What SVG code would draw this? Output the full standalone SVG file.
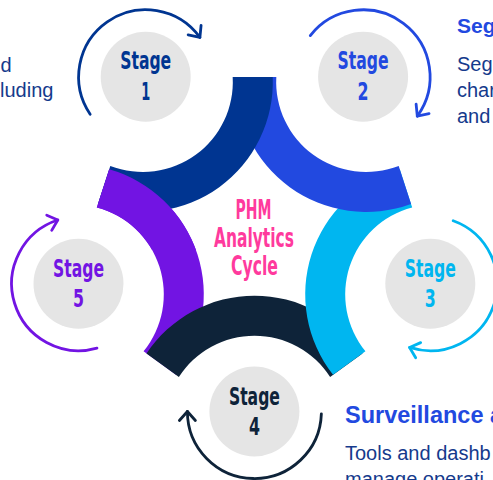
<svg xmlns="http://www.w3.org/2000/svg" xmlns:xlink="http://www.w3.org/1999/xlink" width="493" height="480" viewBox="0 0 493 480">
  <style>
    .disc { fill: #E5E5E5; }
    .stg { font-family: 'Liberation Sans Narrow', 'DejaVu Sans Condensed', 'Roboto Condensed', 'Liberation Sans', sans-serif; font-stretch: condensed; font-weight: bold; font-size: 24px; text-anchor: middle; }
    .ctr { font-family: 'Liberation Sans Narrow', 'DejaVu Sans Condensed', 'Roboto Condensed', 'Liberation Sans', sans-serif; font-stretch: condensed; font-weight: bold; font-size: 26px; text-anchor: middle; fill: #FF3A9D; }
    .arc { fill: none; stroke-width: 2.8; stroke-linecap: round; }
    .head { font-family: 'Liberation Sans', Arial, sans-serif; font-weight: bold; fill: #2249E0; }
    .body { font-family: 'Liberation Sans', Arial, sans-serif; font-size: 20px; fill: #153A8C; }
    .c1 { fill: #003591; } .c2 { fill: #2249E0; } .c3 { fill: #00B6F0; } .c4 { fill: #0E2339; } .c5 { fill: #7214E3; }
    .s1 { stroke: #003591; } .s2 { stroke: #2249E0; } .s3 { stroke: #00B6F0; } .s4 { stroke: #0E2339; } .s5 { stroke: #7214E3; }
  </style>
  <defs>
    <path id="ring" d="M 272.72 76.99 A 130 130 0 0 1 97.93 203.99 L 110.30 165.91 A 90 90 0 0 0 232.68 76.99 Z"/>
    <clipPath id="topleft"><rect x="0" y="0" width="260" height="250"/></clipPath>
    <marker id="m1" markerUnits="userSpaceOnUse" orient="auto" refX="0" refY="0" markerWidth="24" markerHeight="24" viewBox="-12 -12 24 24" overflow="visible"><path d="M -9 -8 L 0 0 L -9 8" fill="none" stroke="#003591" stroke-width="2.8" stroke-linecap="round" stroke-linejoin="round"/></marker>
    <marker id="m2" markerUnits="userSpaceOnUse" orient="auto" refX="0" refY="0" markerWidth="24" markerHeight="24" viewBox="-12 -12 24 24" overflow="visible"><path d="M -9 -8 L 0 0 L -9 8" fill="none" stroke="#2249E0" stroke-width="2.8" stroke-linecap="round" stroke-linejoin="round"/></marker>
    <marker id="m3" markerUnits="userSpaceOnUse" orient="auto" refX="0" refY="0" markerWidth="24" markerHeight="24" viewBox="-12 -12 24 24" overflow="visible"><path d="M -9 -8 L 0 0 L -9 8" fill="none" stroke="#00B6F0" stroke-width="2.8" stroke-linecap="round" stroke-linejoin="round"/></marker>
    <marker id="m4" markerUnits="userSpaceOnUse" orient="auto" refX="0" refY="0" markerWidth="24" markerHeight="24" viewBox="-12 -12 24 24" overflow="visible"><path d="M -9 -8 L 0 0 L -9 8" fill="none" stroke="#0E2339" stroke-width="2.8" stroke-linecap="round" stroke-linejoin="round"/></marker>
    <marker id="m5" markerUnits="userSpaceOnUse" orient="auto" refX="0" refY="0" markerWidth="24" markerHeight="24" viewBox="-12 -12 24 24" overflow="visible"><path d="M -9 -8 L 0 0 L -9 8" fill="none" stroke="#7214E3" stroke-width="2.8" stroke-linecap="round" stroke-linejoin="round"/></marker>
  </defs>
  <rect width="493" height="480" fill="#FFFFFF"/>

  <g id="stage5">
    <use xlink:href="#ring" class="c5" transform="rotate(288 254.5 235.7)"/>
    <circle class="disc" cx="78.5" cy="283.7" r="45"/>
    <text class="stg c5" x="78.5" y="277" textLength="51" lengthAdjust="spacingAndGlyphs">Stage</text>
    <text class="stg c5" x="78.5" y="307" textLength="11" lengthAdjust="spacingAndGlyphs">5</text>
  </g>
  <g id="stage4">
    <use xlink:href="#ring" class="c4" transform="rotate(216 254.5 235.7)"/>
    <circle class="disc" cx="254.4" cy="411.5" r="45"/>
    <text class="stg c4" x="254.4" y="405" textLength="51" lengthAdjust="spacingAndGlyphs">Stage</text>
    <text class="stg c4" x="254.4" y="435" textLength="11" lengthAdjust="spacingAndGlyphs">4</text>
  </g>
  <g id="stage3">
    <use xlink:href="#ring" class="c3" transform="rotate(144 254.5 235.7)"/>
    <circle class="disc" cx="430.3" cy="283.7" r="45"/>
    <text class="stg c3" x="430.3" y="277" textLength="51" lengthAdjust="spacingAndGlyphs">Stage</text>
    <text class="stg c3" x="430.3" y="307" textLength="11" lengthAdjust="spacingAndGlyphs">3</text>
  </g>
  <g id="stage2">
    <use xlink:href="#ring" class="c2" transform="rotate(72 254.5 235.7)"/>
    <circle class="disc" cx="363.1" cy="76.8" r="45"/>
    <text class="stg c2" x="363.1" y="69" textLength="51" lengthAdjust="spacingAndGlyphs">Stage</text>
    <text class="stg c2" x="363.1" y="100" textLength="11" lengthAdjust="spacingAndGlyphs">2</text>
  </g>
  <g id="stage1">
    <use xlink:href="#ring" class="c1"/>
    <circle class="disc" cx="145.7" cy="76.8" r="45"/>
    <text class="stg c1" x="145.7" y="69" textLength="51" lengthAdjust="spacingAndGlyphs">Stage</text>
    <text class="stg c1" x="145.7" y="100" textLength="9" lengthAdjust="spacingAndGlyphs">1</text>
  </g>
  <g id="stage5-overlap" clip-path="url(#topleft)">
    <use xlink:href="#ring" class="c5" transform="rotate(288 254.5 235.7)"/>
  </g>

  <g id="center">
    <text class="ctr" x="253.5" y="219" textLength="36" lengthAdjust="spacingAndGlyphs">PHM</text>
    <text class="ctr" x="254" y="247" textLength="80" lengthAdjust="spacingAndGlyphs">Analytics</text>
    <text class="ctr" x="254.5" y="275" textLength="47" lengthAdjust="spacingAndGlyphs">Cycle</text>
  </g>

  <g id="connectors">
    <path class="arc s1" d="M 90.15 114.27 A 67 67 0 0 1 199.9 37.42" marker-end="url(#m1)"/>
    <path class="arc s2" d="M 310.30 35.55 A 67 67 0 0 1 417.30 116.18" marker-end="url(#m2)"/>
    <path class="arc s3" d="M 453.22 220.74 A 67 67 0 0 1 409.60 347.42" marker-end="url(#m3)"/>
    <path class="arc s4" d="M 321.36 413.84 A 67 67 0 0 1 187.4 411.5" marker-end="url(#m4)"/>
    <path class="arc s5" d="M 96.97 348.10 A 67 67 0 0 1 57.80 219.98" marker-end="url(#m5)"/>
  </g>

  <g id="text-left">
    <text class="body" x="0.5" y="72">d</text>
    <text class="body" x="0" y="97">luding</text>
  </g>
  <g id="text-top-right">
    <text class="head" x="457" y="33" font-size="21">Seg</text>
    <text class="body" x="457" y="71" font-size="19.5">Seg</text>
    <text class="body" x="457" y="97" font-size="19.5">char</text>
    <text class="body" x="457" y="123" font-size="19.5">and</text>
  </g>
  <g id="text-bottom-right">
    <text class="head" x="345" y="423" font-size="23.5">Surveillance a</text>
    <text class="body" x="345" y="460">Tools and dashb</text>
    <text class="body" x="345" y="486">manage operati</text>
  </g>
</svg>
